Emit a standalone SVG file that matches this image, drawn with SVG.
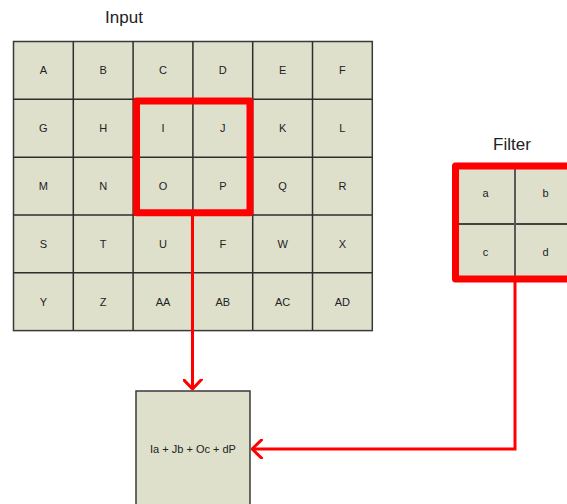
<svg xmlns="http://www.w3.org/2000/svg" width="567" height="504" viewBox="0 0 567 504">
  <style>
    .cell { fill: #dee0cb; stroke: #3a3a3a; stroke-width: 1.5; }
    .lbl { font-family: "Liberation Sans", Arial, sans-serif; font-size: 11px; fill: #222; text-anchor: middle; }
    .title { font-family: "Liberation Sans", Arial, sans-serif; font-size: 17px; fill: #222; text-anchor: middle; }
    .hi { fill: none; stroke: #ff0000; stroke-width: 7; stroke-linejoin: round; }
    .wire { fill: none; stroke: #ff0000; stroke-width: 3; }
  </style>
  <defs>
    <marker id="arrow" viewBox="0 0 12 20" refX="10.5" refY="10" markerWidth="12" markerHeight="20" markerUnits="userSpaceOnUse" orient="auto">
      <path d="M1,1 L10.5,10 L1,19" fill="none" stroke="#ff0000" stroke-width="3" stroke-linecap="round" stroke-linejoin="round"/>
    </marker>
  </defs>
  <rect width="567" height="504" fill="#ffffff"/>

  <!-- Input matrix -->
  <g id="input">
    <text class="title" x="124" y="23">Input</text>
    <g id="input-grid">
      <rect class="cell" x="13.5" y="41.5" width="358.8" height="289.1"/>
      <path d="M73.3,41.5V330.6M133.1,41.5V330.6M192.9,41.5V330.6M252.7,41.5V330.6M312.5,41.5V330.6M13.5,99.3H372.3M13.5,157.2H372.3M13.5,215H372.3M13.5,272.8H372.3" fill="none" stroke="#2e2e2e" stroke-width="1.5"/>
    </g>
    <g id="input-labels">
      <text class="lbl" x="43.4" y="74.4">A</text>
      <text class="lbl" x="103.2" y="74.4">B</text>
      <text class="lbl" x="163" y="74.4">C</text>
      <text class="lbl" x="222.8" y="74.4">D</text>
      <text class="lbl" x="282.6" y="74.4">E</text>
      <text class="lbl" x="342.4" y="74.4">F</text>

      <text class="lbl" x="43.4" y="132.2">G</text>
      <text class="lbl" x="103.2" y="132.2">H</text>
      <text class="lbl" x="163" y="132.2">I</text>
      <text class="lbl" x="222.8" y="132.2">J</text>
      <text class="lbl" x="282.6" y="132.2">K</text>
      <text class="lbl" x="342.4" y="132.2">L</text>

      <text class="lbl" x="43.4" y="190.1">M</text>
      <text class="lbl" x="103.2" y="190.1">N</text>
      <text class="lbl" x="163" y="190.1">O</text>
      <text class="lbl" x="222.8" y="190.1">P</text>
      <text class="lbl" x="282.6" y="190.1">Q</text>
      <text class="lbl" x="342.4" y="190.1">R</text>

      <text class="lbl" x="43.4" y="247.9">S</text>
      <text class="lbl" x="103.2" y="247.9">T</text>
      <text class="lbl" x="163" y="247.9">U</text>
      <text class="lbl" x="222.8" y="247.9">F</text>
      <text class="lbl" x="282.6" y="247.9">W</text>
      <text class="lbl" x="342.4" y="247.9">X</text>

      <text class="lbl" x="43.4" y="305.7">Y</text>
      <text class="lbl" x="103.2" y="305.7">Z</text>
      <text class="lbl" x="163" y="305.7">AA</text>
      <text class="lbl" x="222.8" y="305.7">AB</text>
      <text class="lbl" x="282.6" y="305.7">AC</text>
      <text class="lbl" x="342.4" y="305.7">AD</text>
    </g>
  </g>

  <!-- Filter matrix -->
  <g id="filter">
    <text class="title" x="512" y="150">Filter</text>
    <rect class="cell" x="455.5" y="166" width="120" height="113" stroke="none"/>
    <path d="M455.5,224H575" stroke="#111" stroke-width="1.5"/>
    <path d="M515,166V279" stroke="#5a5a5a" stroke-width="2"/>
    <text class="lbl" x="485.5" y="197">a</text>
    <text class="lbl" x="545.5" y="197">b</text>
    <text class="lbl" x="485.5" y="256">c</text>
    <text class="lbl" x="545.5" y="256">d</text>
    <rect class="hi" x="455.5" y="166" width="120" height="113"/>
  </g>

  <!-- Result cell -->
  <g id="result">
    <rect class="cell" x="136" y="391" width="114" height="130" stroke="#555" stroke-width="1.5"/>
    <text class="lbl" x="193" y="453">Ia + Jb + Oc + dP</text>
  </g>

  <!-- Connectors -->
  <g id="connectors">
    <path class="wire" d="M192.5,216V389" marker-end="url(#arrow)"/>
    <path class="wire" d="M515,282V449H252" marker-end="url(#arrow)"/>
  </g>

  <!-- Window over the input matrix -->
  <g id="window">
    <rect class="hi" x="136.5" y="101" width="113.5" height="111.7"/>
  </g>
</svg>
